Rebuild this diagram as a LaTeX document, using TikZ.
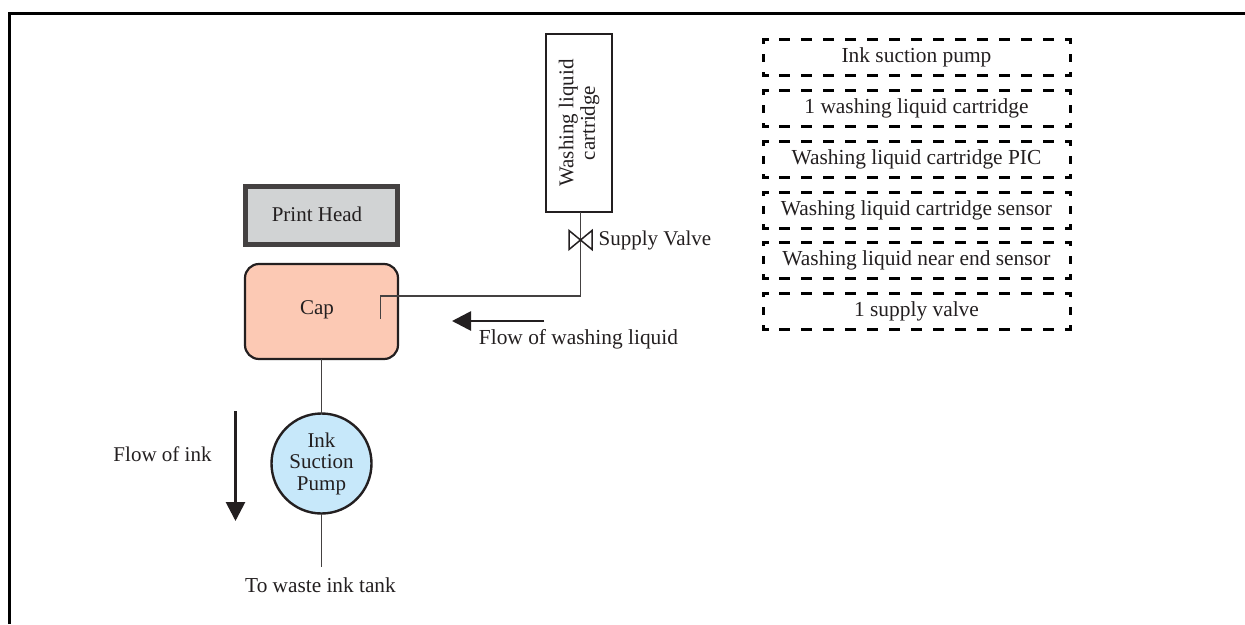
\documentclass[tikz,border=0pt]{standalone}
\usepackage{fontspec}
\setmainfont{Liberation Serif}
\usetikzlibrary{arrows.meta}
\definecolor{inkblack}{HTML}{231F20}
\definecolor{headgray}{HTML}{D1D3D4}
\definecolor{capred}{HTML}{FCC9B4}
\definecolor{pumpblue}{HTML}{C7E8FA}
\tikzset{>={Triangle[length=19pt,width=19pt]}}
\tikzset{
  every node/.style={font=\fontsize{21}{21.5}\selectfont, text=inkblack, inner sep=0pt, outer sep=0pt, align=center},
  pipe/.style={draw=inkblack!85, line width=1.3pt},
  flow/.style={->, draw=inkblack, fill=inkblack, line width=2.8pt},
  listbox/.style={font=\fontsize{21.4}{21.5}\selectfont, minimum width=307pt, minimum height=36pt},
  hdash/.style={line width=3pt, line cap=rect, dash pattern=on 8pt off 13.93pt, dash phase=4pt},
  vdash/.style={line width=3pt, line cap=rect, dash pattern=on 5pt off 13pt, dash phase=2.5pt}
}
\begin{document}
\begin{tikzpicture}[x=1pt, y=-1pt]
  \useasboundingbox (0, 0) rectangle (1245, 624);
  % frame
  \draw[line width=3pt] (9.5, 624) -- (9.5, 13.5) -- (1245, 13.5);
  % nodes
  \node[draw=inkblack!85, fill=headgray, line width=5pt, minimum width=152pt, minimum height=58pt] (head) at (321.5, 215.5) {};
  \node (headtext) at (317, 214.5) {Print Head};
  \node[draw=inkblack, fill=capred, line width=2.2pt, rounded corners=14pt, minimum width=153pt, minimum height=95pt] (cap) at (321.5, 311.5) {};
  \node (captext) at (317, 310) {Cap};
  \node[draw=inkblack, fill=white, line width=2.4pt, rotate=90, minimum width=178pt, minimum height=66pt] (cartridge) at (579, 123) {Washing liquid\\cartridge};
  \node[circle, draw=inkblack, fill=pumpblue, line width=2.4pt, minimum size=100pt] (pump) at (321.5, 463.5) {Ink\\Suction\\Pump};
  \coordinate (valve) at (580.5, 240);
  \coordinate (bend) at (580.5, 296);
  \coordinate (capin) at (380.5, 319);
  \coordinate (waste) at (321.5, 567);
  \coordinate (washstart) at (544, 321);
  \coordinate (washend) at (452, 321);
  \coordinate (inkstart) at (235.5, 411);
  \coordinate (inkend) at (235.5, 521);
  % labels
  \node (valvetext) at (655, 240.5) {Supply Valve};
  \node[font=\fontsize{21.4}{21.5}\selectfont] (washtext) at (578.5, 339) {Flow of washing liquid};
  \node (inktext) at (162.5, 454) {Flow of ink};
  \node[font=\fontsize{21.3}{21.5}\selectfont] (wastetext) at (320.5, 585) {To waste ink tank};
  % lines
  \draw[pipe] (cartridge.west -| valve) -- (bend) -| (capin);
  \draw[pipe] (cap.south) -- (pump.north);
  \draw[pipe] (pump.south) -- (waste);
  \draw[draw=inkblack, line width=1.5pt] (valve) -- ++(-11.5, -9.5) -- ++(0, 19) -- ++(23, -19) -- ++(0, 19) -- cycle;
  \draw[flow] (washstart) -- (washend);
  \draw[flow] (inkstart) -- (inkend);
  % list
  \node[listbox] (pumpitem) at (916.5, 57.5) {Ink suction pump};
  \node[listbox] (cartitem) at (916.5, 108.5) {1 washing liquid cartridge};
  \node[listbox] (picitem) at (916.5, 159.5) {Washing liquid cartridge PIC};
  \node[listbox] (sensoritem) at (916.5, 210) {Washing liquid cartridge sensor};
  \node[listbox] (nearitem) at (916.5, 260) {Washing liquid near end sensor};
  \node[listbox] (valveitem) at (916.5, 311) {1 supply valve};
  \foreach \boxname in {pumpitem, cartitem, picitem, sensoritem, nearitem, valveitem} {
    \draw[hdash] (\boxname.north west) -- (\boxname.north east);
    \draw[hdash] (\boxname.south west) -- (\boxname.south east);
    \draw[vdash] (\boxname.north west) -- (\boxname.south west);
    \draw[vdash] (\boxname.north east) -- (\boxname.south east);
  }
\end{tikzpicture}
\end{document}
